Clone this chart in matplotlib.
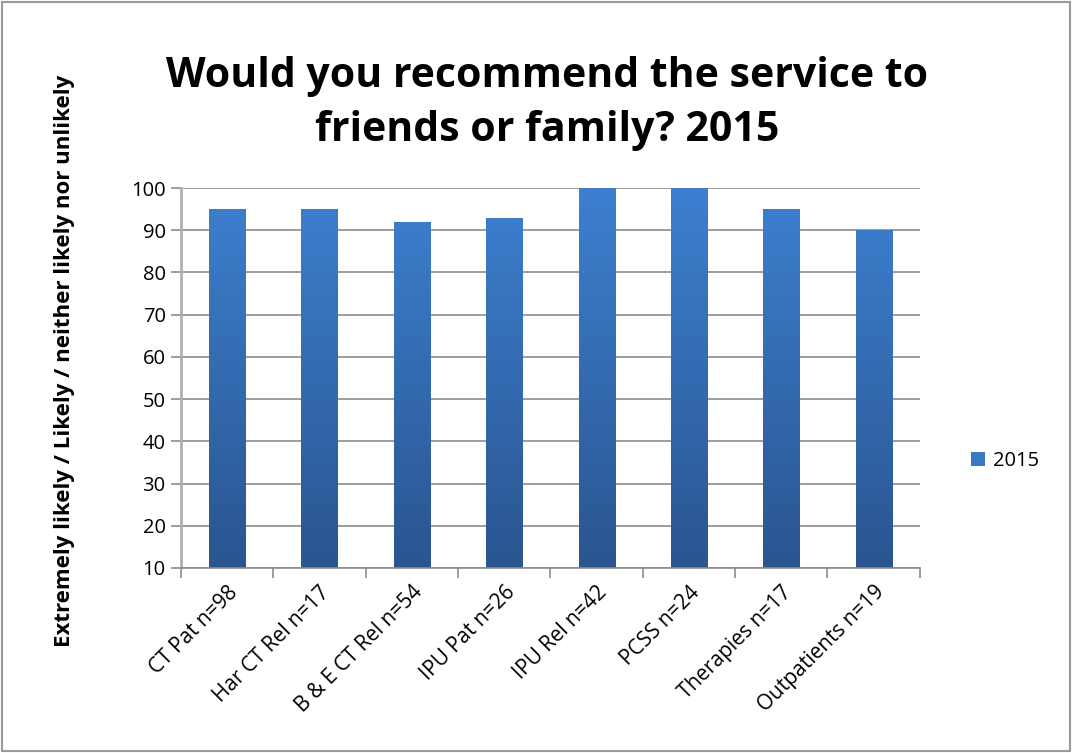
import numpy as np
import matplotlib
matplotlib.use("Agg")
import matplotlib.pyplot as plt
from matplotlib.patches import Rectangle
from matplotlib.colors import LinearSegmentedColormap

categories = ["CT Pat n=98", "Har CT Rel n=17", "B & E CT Rel n=54", "IPU Pat n=26",
              "IPU Rel n=42", "PCSS n=24", "Therapies n=17", "Outpatients n=19"]
values_2015 = [95, 95, 92, 93, 100, 100, 95, 90]
y_ticks = list(range(10, 101, 10))

plt.rcParams["font.family"] = ["Open Sans", "DejaVu Sans"]

fig = plt.figure(figsize=(10.72, 7.53), dpi=100)
fig.patches.append(Rectangle((0.002, 0.002), 0.996, 0.996, transform=fig.transFigure,
                             fill=False, edgecolor="#9a9a9a", linewidth=1.5))
ax = fig.add_axes([0.1688, 0.2457, 0.6892, 0.5046])

x = np.arange(len(categories))
width = 0.39
bars = ax.bar(x, values_2015, width=width, bottom=0, color="#3a78c6", label="2015", zorder=2)

# vertical gradient fill like the original
cmap = LinearSegmentedColormap.from_list("blu", ["#2a5590", "#3d80d0"])
grad = np.linspace(0, 1, 256).reshape(-1, 1)
for b in bars:
    x0, w, h = b.get_x(), b.get_width(), b.get_height()
    im = ax.imshow(grad, extent=[x0, x0 + w, 10, 100], origin="lower", aspect="auto",
                   cmap=cmap, zorder=2.5)
    im.set_clip_path(b)

ax.set_xlim(-0.5, len(categories) - 0.5)
ax.set_ylim(10, 100)
ax.set_yticks(y_ticks)
ax.set_yticklabels([str(v) for v in y_ticks], fontsize=14.5)
ax.yaxis.grid(True, color="#8c8c8c", linewidth=1.2, zorder=0)
ax.set_axisbelow(True)

ax.set_xticks(x)
ax.set_xticklabels(categories, rotation=45, ha="right", rotation_mode="anchor", fontsize=15)
ax.tick_params(axis="x", length=0, pad=10)
ax.set_xticks(np.arange(-0.5, len(categories)), minor=True)
ax.tick_params(axis="x", which="minor", length=7, color="#8c8c8c", width=1.2)
ax.tick_params(axis="y", length=7, color="#8c8c8c", width=1.2, pad=4)

for s in ["top", "right"]:
    ax.spines[s].set_visible(False)
ax.spines["left"].set_color("#b0b0b0")
ax.spines["left"].set_linewidth(2)
ax.spines["bottom"].set_color("#8c8c8c")
ax.spines["bottom"].set_linewidth(1.2)

ax.set_ylabel("Extremely likely / Likely / neither likely nor unlikely", fontsize=16,
              fontweight="bold", va="center")
ax.yaxis.set_label_coords(-0.157, 0.545)

fig.text(0.51, 0.80, "Would you recommend the service to\nfriends or family? 2015",
         ha="center", va="bottom", fontsize=29.5, fontweight="bold", linespacing=1.4)

leg = ax.legend(loc="center left", bbox_to_anchor=(0.898, 0.388),
                bbox_transform=fig.transFigure, frameon=False, fontsize=14.5,
                handlelength=0.7, handleheight=0.7, handletextpad=0.4, borderaxespad=0)

fig.savefig("out.png", dpi=100)
